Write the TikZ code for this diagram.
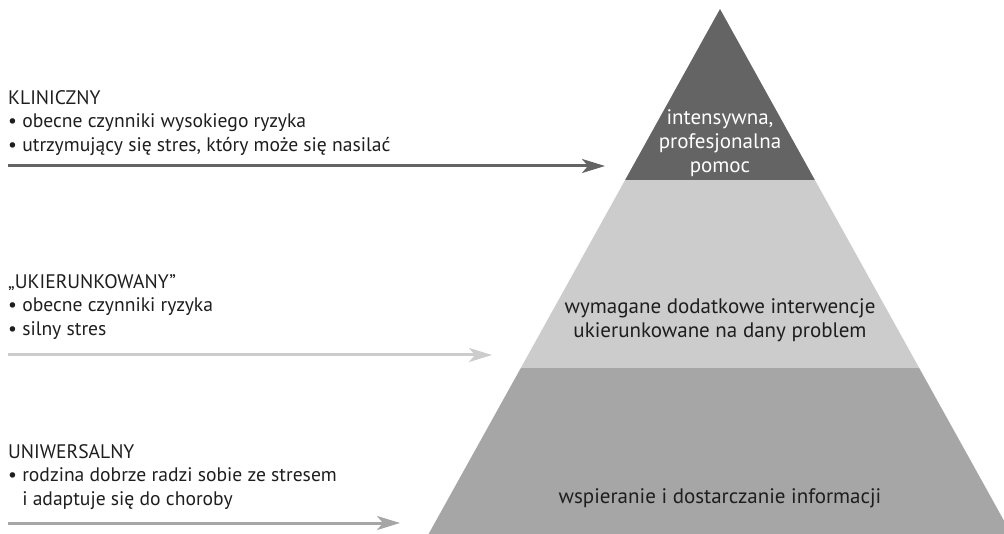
\documentclass[tikz,border=0pt]{standalone}
\usepackage{fontspec}
\setmainfont{PT Sans}
\usetikzlibrary{arrows.meta}
\definecolor{tierdark}{HTML}{646464}
\definecolor{tierlight}{HTML}{CCCCCC}
\definecolor{tiermid}{HTML}{A6A6A6}
\definecolor{txt}{HTML}{1E1E1E}
\tikzset{
  lvltext/.style={anchor=west, inner sep=0pt, align=left, text=txt,
    font=\fontsize{19.6}{23.8}\selectfont},
  tiertext/.style={inner sep=0pt, align=center,
    font=\fontsize{21}{24}\selectfont},
  lvlarrow/.style={line width=3pt, -{Stealth[length=23pt, width=14pt, inset=6pt]}},
}
\begin{document}
\begin{tikzpicture}[x=1pt, y=-1pt]
\useasboundingbox (0,0) rectangle (1004,534);
\begin{scope}
\clip (0,0) rectangle (1004,534);
% pyramid tiers
\fill[tiermid] (520.8,368) -- (919.2,368) -- (1011.4,534) -- (428.6,534) -- cycle;
\fill[tierlight] (625.1,180) -- (814.9,180) -- (919.2,368) -- (520.8,368) -- cycle;
\fill[tierdark] (720,9) -- (814.9,180) -- (625.1,180) -- cycle;
\end{scope}
% tier texts
\node[tiertext, text=white] (top) at (720,143) {intensywna,\\profesjonalna\\pomoc};
\node[tiertext, text=txt] (mid) at (720,320.5) {wymagane dodatkowe interwencje\\ukierunkowane na dany problem};
\node[tiertext, text=txt] (bot) at (720,498) {wspieranie i dostarczanie informacji};
% level texts
\node[lvltext] (klin) at (8,123) {KLINICZNY\\\textbullet\ obecne czynniki wysokiego ryzyka\\\textbullet\ utrzymujący się stres, który może się nasilać};
\node[lvltext] (ukier) at (8,307) {„UKIERUNKOWANY”\\\textbullet\ obecne czynniki ryzyka\\\textbullet\ silny stres};
\node[lvltext] (uni) at (8,477) {UNIWERSALNY\\\textbullet\ rodzina dobrze radzi sobie ze stresem\\\phantom{\textbullet}\ i adaptuje się do choroby};
% arrows
\coordinate (a1s) at (8,166);
\coordinate (a1e) at (605,166);
\coordinate (a2s) at (8,355);
\coordinate (a2e) at (492,355);
\coordinate (a3s) at (8,523);
\coordinate (a3e) at (400,523);
\draw[lvlarrow, tierdark] (a1s) -- (a1e);
\draw[lvlarrow, tierlight] (a2s) -- (a2e);
\draw[lvlarrow, tiermid] (a3s) -- (a3e);
\end{tikzpicture}
\end{document}
